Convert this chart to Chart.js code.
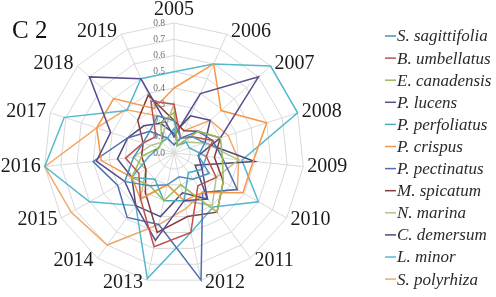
<!DOCTYPE html>
<html>
<head>
<meta charset="utf-8">
<script src="https://cdn.jsdelivr.net/npm/chart.js@4.4.1/dist/chart.umd.min.js"></script>
<style>
  html, body { margin:0; padding:0; width:496px; height:297px; overflow:hidden; background:#fff; }
  #wrap { position:absolute; left:0; top:0; width:496px; height:297px; }
</style>
</head>
<body>
<div id="wrap"><canvas id="c"></canvas></div>
<script>
const years = ["2005","2006","2007","2008","2009","2010","2011","2012","2013","2014","2015","2016","2017","2018","2019"];
const tickValues = [0.0,0.1,0.2,0.3,0.4,0.5,0.6,0.7,0.8];
const titleText = "C 2";
const seriesNames = ["S. sagittifolia","B. umbellatus","E. canadensis","P. lucens","P. perfoliatus","P. crispus","P. pectinatus","M. spicatum","N. marina","C. demersum","L. minor","S. polyrhiza"];
const seriesColors = ["#4a8fbb","#c0504d","#9bbb59","#5a4b8c","#4bacc6","#f79646","#4f6fb0","#8b3a3a","#b5c48a","#4d4a78","#55b8cf","#f2a868"];

const sSagittifolia = [0.20,0.10,0.15,0.20,0.15,0.25,0.20,0.15,0.20,0.25,0.35,0.25,0.20,0.20,0.25];
const bUmbellatus   = [0.30,0.10,0.15,0.25,0.20,0.30,0.25,0.50,0.59,0.35,0.25,0.30,0.20,0.15,0.35];
const eCanadensis   = [0.25,0.05,0.20,0.30,0.30,0.35,0.45,0.20,0.30,0.25,0.30,0.20,0.10,0.10,0.20];
const pLucens       = [0.10,0.40,0.70,0.30,0.15,0.20,0.35,0.30,0.55,0.40,0.35,0.48,0.41,0.70,0.50];
const pPerfoliatus  = [0.15,0.05,0.10,0.10,0.20,0.20,0.15,0.30,0.30,0.20,0.30,0.15,0.10,0.10,0.10];
const pCrispus      = [0.40,0.60,0.39,0.60,0.49,0.49,0.30,0.30,0.20,0.35,0.30,0.45,0.50,0.50,0.30];
const pPectinatus   = [0.05,0.10,0.20,0.25,0.30,0.45,0.30,0.80,0.45,0.49,0.40,0.50,0.30,0.20,0.10];
const mSpicatum     = [0.20,0.15,0.20,0.30,0.25,0.35,0.45,0.40,0.50,0.30,0.20,0.20,0.20,0.30,0.39];
const nMarina       = [0.30,0.05,0.10,0.20,0.40,0.30,0.40,0.30,0.20,0.35,0.20,0.25,0.15,0.10,0.15];
const cDemersum     = [0.12,0.25,0.30,0.20,0.50,0.15,0.35,0.25,0.40,0.40,0.30,0.35,0.30,0.25,0.20];
const lMinor        = [0.50,0.60,0.80,0.80,0.42,0.60,0.41,0.50,0.79,0.40,0.60,0.80,0.71,0.39,0.50];
const sPolyrhiza    = [0.20,0.15,0.30,0.35,0.40,0.45,0.30,0.35,0.45,0.70,0.73,0.80,0.50,0.40,0.25];

const seriesValues = [sSagittifolia,bUmbellatus,eCanadensis,pLucens,pPerfoliatus,pCrispus,pPectinatus,mSpicatum,nMarina,cDemersum,lMinor,sPolyrhiza];

const datasets = seriesNames.map((n,i)=>({
  label:n, data:seriesValues[i], borderColor:seriesColors[i], backgroundColor:seriesColors[i],
  borderWidth:1.5, pointRadius:0, fill:false, tension:0
}));

const fam = "'Liberation Serif', serif";

const textPlugin = {
  id:'textPlugin',
  afterDraw(chart){
    const s = chart.scales.r, ctx = chart.ctx;
    ctx.save();
    ctx.font = "9.5px " + fam;
    ctx.fillStyle = '#6f6f6f';
    ctx.textAlign = 'right';
    ctx.textBaseline = 'middle';
    tickValues.forEach(v=>{
      const d = s.getDistanceFromCenterForValue(v);
      ctx.fillText(v.toFixed(1), s.xCenter - 9, s.yCenter - d);
    });
    ctx.font = "20px " + fam;
    ctx.fillStyle = '#1a1a1a';
    ctx.textBaseline = 'middle';
    years.forEach((y,i)=>{
      const a = i*2*Math.PI/years.length;
      const p = s.getPointPosition(i, s.drawingArea);
      const sn = Math.sin(a), cs = Math.cos(a);
      if (Math.abs(sn) < 0.05) {
        ctx.textAlign = 'center';
        ctx.fillText(y, p.x, p.y - 13);
      } else {
        ctx.textAlign = sn > 0 ? 'left' : 'right';
        const dx = (sn > 0 ? 1 : -1) * 4;
        ctx.fillText(y, p.x + dx, p.y - 3*cs);
      }
    });
    ctx.font = "25px " + fam;
    ctx.fillStyle = '#111';
    ctx.textAlign = 'left';
    ctx.textBaseline = 'alphabetic';
    ctx.fillText(titleText, 12, 38);
    ctx.font = "italic 17px " + fam;
    ctx.textBaseline = 'middle';
    seriesNames.forEach((n,i)=>{
      const y = 36 + 22.1*i;
      ctx.strokeStyle = seriesColors[i];
      ctx.lineWidth = 1.5;
      ctx.beginPath(); ctx.moveTo(385, y); ctx.lineTo(396, y); ctx.stroke();
      ctx.fillStyle = '#2a2a2a';
      ctx.fillText(n, 397, y + 1);
    });
    ctx.restore();
  }
};

new Chart(document.getElementById('c'), {
  type:'radar',
  data:{ labels:years, datasets },
  plugins:[textPlugin],
  options:{
    responsive:true, maintainAspectRatio:false, animation:false,
    layout:{ padding:0 },
    plugins:{ legend:{ display:false }, tooltip:{ enabled:false } },
    scales:{
      r:{
        min:0, max:0.8,
        afterFit(scale){ scale.drawingArea = 130; scale.xCenter = 174; scale.yCenter = 153; },
        ticks:{ stepSize:0.1, display:false },
        grid:{ color:'#d9d9d9', lineWidth:1 },
        angleLines:{ color:'#d9d9d9', lineWidth:1 },
        pointLabels:{ display:false }
      }
    }
  }
});
</script>
</body>
</html>
